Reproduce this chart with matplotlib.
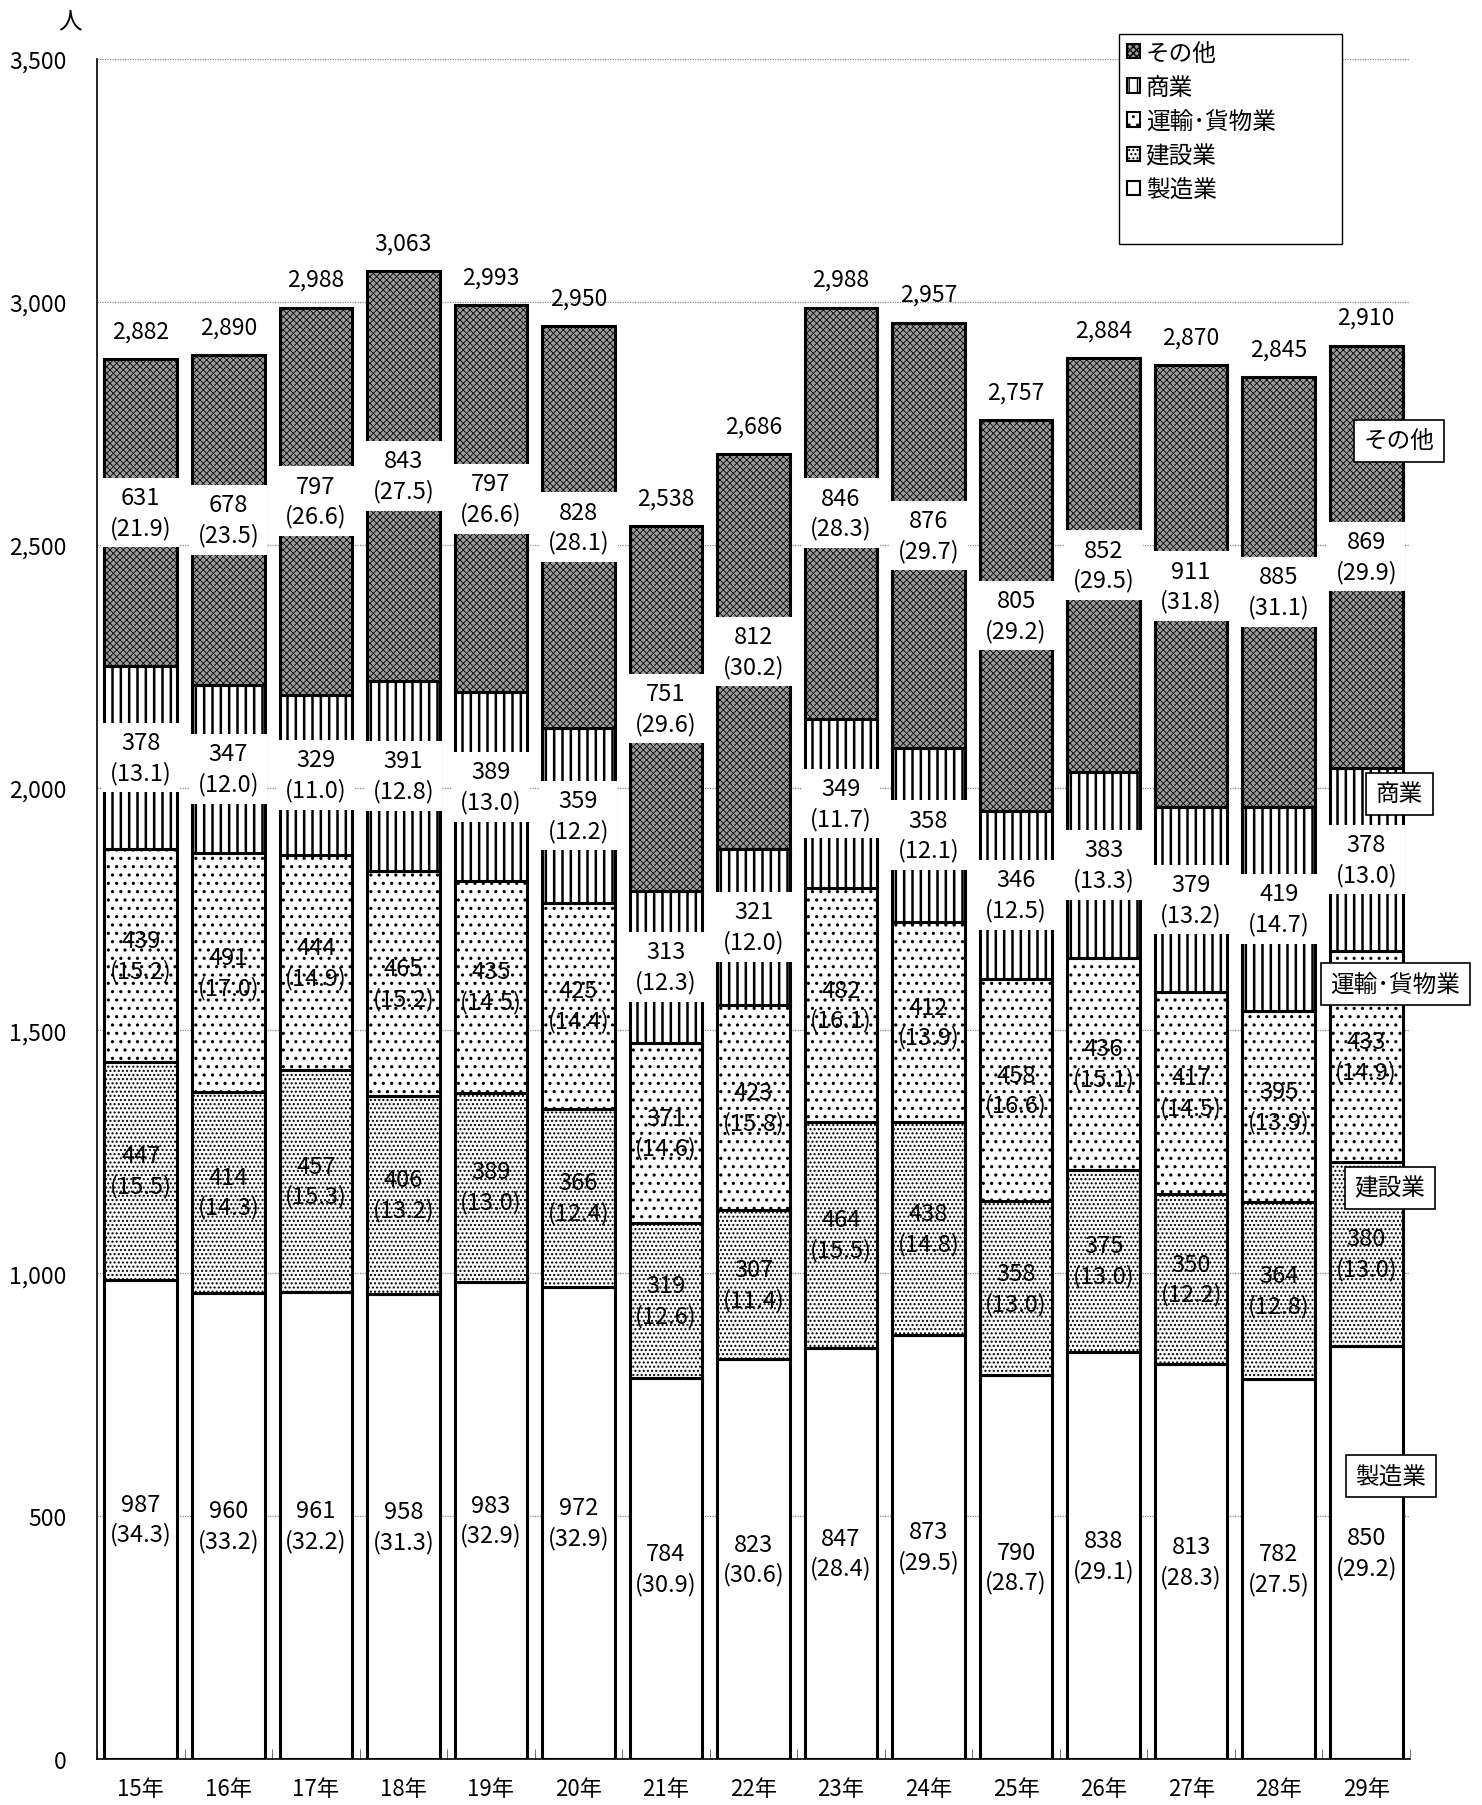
import matplotlib
matplotlib.use("Agg")
import matplotlib.pyplot as plt
from matplotlib.patches import Patch, Rectangle
import numpy as np

plt.rcParams['font.family'] = ['Noto Sans CJK JP', 'DejaVu Sans']

years = ["15年", "16年", "17年", "18年", "19年", "20年", "21年", "22年",
         "23年", "24年", "25年", "26年", "27年", "28年", "29年"]
series_names = ["製造業", "建設業", "運輸･貨物業", "商業", "その他"]

manufacturing = [987, 960, 961, 958, 983, 972, 784, 823, 847, 873, 790, 838, 813, 782, 850]
manufacturing_pct = [34.3, 33.2, 32.2, 31.3, 32.9, 32.9, 30.9, 30.6, 28.4, 29.5, 28.7, 29.1, 28.3, 27.5, 29.2]
construction = [447, 414, 457, 406, 389, 366, 319, 307, 464, 438, 358, 375, 350, 364, 380]
construction_pct = [15.5, 14.3, 15.3, 13.2, 13.0, 12.4, 12.6, 11.4, 15.5, 14.8, 13.0, 13.0, 12.2, 12.8, 13.0]
transport = [439, 491, 444, 465, 435, 425, 371, 423, 482, 412, 458, 436, 417, 395, 433]
transport_pct = [15.2, 17.0, 14.9, 15.2, 14.5, 14.4, 14.6, 15.8, 16.1, 13.9, 16.6, 15.1, 14.5, 13.9, 14.9]
commerce = [378, 347, 329, 391, 389, 359, 313, 321, 349, 358, 346, 383, 379, 419, 378]
commerce_pct = [13.1, 12.0, 11.0, 12.8, 13.0, 12.2, 12.3, 12.0, 11.7, 12.1, 12.5, 13.3, 13.2, 14.7, 13.0]
other = [631, 678, 797, 843, 797, 828, 751, 812, 846, 876, 805, 852, 911, 885, 869]
other_pct = [21.9, 23.5, 26.6, 27.5, 26.6, 28.1, 29.6, 30.2, 28.3, 29.7, 29.2, 29.5, 31.8, 31.1, 29.9]
totals = [2882, 2890, 2988, 3063, 2993, 2950, 2538, 2686, 2988, 2957, 2757, 2884, 2870, 2845, 2910]

values = [manufacturing, construction, transport, commerce, other]
pcts = [manufacturing_pct, construction_pct, transport_pct, commerce_pct, other_pct]

styles = [
    dict(facecolor="white", hatch=None, hlw=1.0, boxed=False),
    dict(facecolor="white", hatch="....", hlw=1.0, boxed=False),
    dict(facecolor="white", hatch="..", hlw=1.1, boxed=False),
    dict(facecolor="white", hatch="||", hlw=1.8, boxed=True),
    dict(facecolor="#9c9c9c", hatch="xxxxx", hlw=0.6, boxed=True),
]

W, H = 1482, 1806
fig = plt.figure(figsize=(W / 100, H / 100), dpi=100)
ax = fig.add_axes([97 / W, 1 - 1760 / H, (1410 - 97) / W, (1760 - 60) / H])

x = np.arange(len(years))
bottom = np.zeros(len(years))
for vals, st in zip(values, styles):
    bars = ax.bar(x, vals, width=0.83, bottom=bottom, facecolor=st["facecolor"],
                  edgecolor="black", linewidth=2.2, hatch=st["hatch"], zorder=2)
    for b in bars:
        if hasattr(b, "set_hatch_linewidth"):
            b.set_hatch_linewidth(st["hlw"])
    bottom = bottom + np.array(vals)

# value labels
bottom = np.zeros(len(years))
for vals, pc, st in zip(values, pcts, styles):
    for i, (v, p) in enumerate(zip(vals, pc)):
        mid = bottom[i] + v / 2
        kw = {}
        if st["boxed"]:
            kw["bbox"] = dict(boxstyle="square,pad=0.35", facecolor="white", edgecolor="none")
        ax.text(i, mid, f"{v}\n({p:.1f})", ha="center", va="center", fontsize=17,
                linespacing=1.35, zorder=4, **kw)
    bottom = bottom + np.array(vals)

# totals
for i, t in enumerate(totals):
    ax.annotate(f"{t:,}", xy=(i, t), xytext=(0, 12), textcoords="offset points",
                ha="center", va="bottom", fontsize=16.5, zorder=4)

ax.set_xlim(-0.5, len(years) - 0.5)
ax.set_ylim(0, 3500)
ax.set_yticks(np.arange(0, 3501, 500))
ax.set_yticklabels([f"{v:,}" for v in np.arange(0, 3501, 500)], fontsize=16.5)
ax.tick_params(axis="y", direction="in", length=0, pad=22)
ax.set_xticks(x)
ax.set_xticklabels(years, fontsize=16)
ax.tick_params(axis="x", which="major", length=0, pad=13)
ax.set_xticks(np.arange(-0.5, len(years), 1.0), minor=True)
ax.tick_params(axis="x", which="minor", direction="in", length=7, color="#555555")
ax.grid(axis="y", linestyle=(0, (1, 1)), color="#888888", linewidth=0.9, zorder=0)
ax.set_axisbelow(True)
for s in ["top", "right"]:
    ax.spines[s].set_visible(False)
ax.spines["left"].set_linewidth(1.2)
ax.spines["bottom"].set_linewidth(1.2)

fig.text(70 / W, 1 - 22 / H, "人", ha="center", va="center", fontsize=17)

# legend
fig.patches.append(Rectangle((1119 / W, 1 - 245 / H), (1342 - 1119) / W, (245 - 35) / H,
                             transform=fig.transFigure, facecolor="white",
                             edgecolor="black", linewidth=1.0, zorder=5))
handles = []
for name, st in zip(series_names, styles):
    h = Patch(facecolor=st["facecolor"], edgecolor="black", hatch=st["hatch"], linewidth=1.5,
              label=name)
    handles.append(h)
handles = handles[::-1]
leg = fig.legend(handles=handles, loc="upper left", bbox_to_anchor=(1122 / W, 1 - 38 / H),
                 frameon=False, fontsize=17, handlelength=0.55, handleheight=0.55,
                 handletextpad=0.25, labelspacing=0.47, borderaxespad=0, borderpad=0.2)
leg.set_zorder(6)

# right-side annotation boxes
side_labels = [("その他", 14.37, 2714), ("商業", 14.38, 1987), ("運輸･貨物業", 14.33, 1596),
               ("建設業", 14.27, 1176), ("製造業", 14.28, 583)]
for txt, xi, yi in side_labels:
    ax.text(xi, yi, txt, ha="center", va="center", fontsize=17, zorder=7, clip_on=False,
            bbox=dict(boxstyle="square,pad=0.4", facecolor="white", edgecolor="black",
                      linewidth=1.2))

fig.savefig("out.png", dpi=100)
